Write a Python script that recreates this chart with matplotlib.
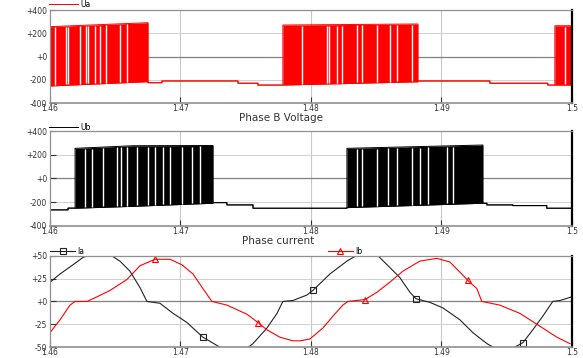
import numpy as np
import matplotlib
matplotlib.use("Agg")
import matplotlib.pyplot as plt
from matplotlib.lines import Line2D

# -----------------------------------------------------
# DATA
# -----------------------------------------------------
xticks = [1.46, 1.47, 1.48, 1.49, 1.50]
xtick_labels = ["1.46", "1.47", "1.48", "1.49", "1.5"]
volt_ticks = [400, 200, 0, -200, -400]
volt_labels = ["+400", "+200", "+0", "-200", "-400"]
curr_ticks = [50, 25, 0, -25, -50]
curr_labels = ["+50", "+25", "+0", "-25", "-50"]

# Ua: upper / lower envelope (equal where the switch is off)
ua_t = [1.46000, 1.46751, 1.46751, 1.46858, 1.46858, 1.47441, 1.47441, 1.47594,
        1.47594, 1.47785, 1.47785, 1.48820, 1.48820, 1.49372, 1.49372, 1.49816,
        1.49816, 1.49870, 1.49870, 1.50000]
ua_hi = [257, 291, -225, -225, -210, -210, -229, -229,
         -245, -245, 271, 280, -210, -210, -229, -229,
         -245, -245, 265, 265]
ua_lo = [-253, -216, -225, -225, -210, -210, -229, -229,
         -245, -245, -245, -217, -210, -210, -229, -229,
         -245, -245, -245, -245]
ua_gaps = [1.46038, 1.46120, 1.46140, 1.46230, 1.46276, 1.46293, 1.46345, 1.46383,
           1.46429, 1.46536, 1.46588,
           1.47929, 1.48120, 1.48140, 1.48202, 1.48235, 1.48355, 1.48389, 1.48503,
           1.48605, 1.48657, 1.48772, 1.49946]

# Ub
ub_t = [1.46000, 1.46138, 1.46138, 1.46192, 1.46192, 1.46636, 1.47249, 1.47249,
        1.47356, 1.47356, 1.47556, 1.47556, 1.48276, 1.48276, 1.49318, 1.49318,
        1.49349, 1.49349, 1.49548, 1.49548, 1.49808, 1.49808, 1.50000]
ub_hi = [-265, -265, -250, -250, 254, 276, 278, -204,
         -204, -223, -223, -251, -251, 254, 282, -209,
         -209, -223, -223, -229, -229, -251, -251]
ub_lo = [-265, -265, -250, -250, -251, -235, -209, -204,
         -204, -223, -223, -251, -251, -246, -209, -209,
         -209, -223, -223, -229, -229, -251, -251]
ub_gaps = [1.46268, 1.46320, 1.46408, 1.46511, 1.46542, 1.46588, 1.46664, 1.46753,
           1.46805, 1.46868, 1.46920, 1.47009, 1.47086, 1.47149,
           1.48355, 1.48389, 1.48503, 1.48592, 1.48657, 1.48772, 1.48835, 1.48899,
           1.49040, 1.49090]

# Ia
ia_t = [1.46000, 1.46077, 1.46176, 1.46253, 1.46307, 1.46460, 1.46536, 1.46613,
        1.46690, 1.46743, 1.46843, 1.46943, 1.47050, 1.47172, 1.47303, 1.47418,
        1.47510, 1.47556, 1.47663, 1.47740, 1.47785, 1.47862, 1.47969, 1.48015,
        1.48146, 1.48276, 1.48360, 1.48506, 1.48605, 1.48682, 1.48759, 1.48805,
        1.48912, 1.49011, 1.49142, 1.49241, 1.49349, 1.49410, 1.49487, 1.49548,
        1.49625, 1.49701, 1.49778, 1.49854, 1.49908, 1.50000]
ia_v = [21, 30, 40, 48, 51, 51, 44, 33,
        15, 0, -2, -13, -23, -39, -50, -55,
        -51, -46, -29, -13, 0, 1, 7, 12,
        30, 44, 51, 51, 37, 26, 10, 3,
        -1, -7, -20, -34, -46, -51, -55, -51,
        -45, -31, -16, 0, 1, 5]
ia_marks = [13, 23, 31, 40]

# Ib
ib_t = [1.46000, 1.46077, 1.46153, 1.46192, 1.46284, 1.46360, 1.46460, 1.46590,
        1.46690, 1.46805, 1.46920, 1.47011, 1.47096, 1.47172, 1.47241, 1.47356,
        1.47510, 1.47594, 1.47663, 1.47762, 1.47862, 1.47916, 1.47992, 1.48092,
        1.48169, 1.48245, 1.48284, 1.48414, 1.48506, 1.48605, 1.48705, 1.48835,
        1.48966, 1.49065, 1.49142, 1.49203, 1.49272, 1.49310, 1.49448, 1.49602,
        1.49755, 1.49885, 1.49985]
ib_v = [-34, -20, -4, 0, 0, 5, 12, 24,
        39, 46, 46, 40, 30, 14, 0, -4,
        -14, -23, -31, -39, -43, -43, -41, -29,
        -16, -4, 0, 2, 10, 21, 33, 44,
        47, 43, 32, 23, 14, 0, -4, -13,
        -27, -39, -46]
ib_marks = [9, 17, 27, 35]

# -----------------------------------------------------
# FIGURE
# -----------------------------------------------------
plt.rcParams["font.family"] = "DejaVu Sans"
fig = plt.figure(figsize=(5.83, 3.58), dpi=100)
fig.patch.set_facecolor("white")

W = 0.895
L = 0.0858
ax1 = fig.add_axes([L, 0.712, W, 0.260])
ax2 = fig.add_axes([L, 0.369, W, 0.265])
ax3 = fig.add_axes([L, 0.030, W, 0.256])

LEG = dict(frameon=False, fontsize=5.5, handletextpad=0.3, borderpad=0,
           borderaxespad=0, loc="lower left")


def style_axes(ax, yt, ylabels, lim):
    ax.set_xlim(1.46, 1.50)
    ax.set_ylim(-lim, lim)
    ax.set_xticks(xticks)
    ax.set_xticklabels(xtick_labels)
    ax.set_yticks(yt)
    ax.set_yticklabels(ylabels)
    ax.tick_params(axis="both", labelsize=5.5, colors="#333333", direction="in",
                   length=4, width=0.8, pad=2)
    ax.tick_params(axis="x", pad=0.5)
    for x in xticks[1:-1]:
        ax.axvline(x, color="#c8c8c8", lw=0.8, zorder=0)
    for y in yt[1:-1]:
        c = "#808080" if y == 0 else "#d0d0d0"
        ax.axhline(y, color=c, lw=0.9 if y == 0 else 0.7, zorder=0)
    for s in ["left", "top", "bottom"]:
        ax.spines[s].set_color("#909090")
        ax.spines[s].set_linewidth(0.9)
    ax.spines["bottom"].set_linewidth(1.2)
    ax.spines["right"].set_color("black")
    ax.spines["right"].set_linewidth(1.6)


def draw_pwm(ax, t, hi, lo, gaps, color, label):
    ax.fill_between(t, lo, hi, color=color, lw=0, zorder=2)
    ax.plot(t, hi, color=color, lw=0.7, zorder=2, label=label)
    ax.plot(t, lo, color=color, lw=0.7, zorder=2)
    g_hi = np.interp(gaps, t, hi)
    g_lo = np.interp(gaps, t, lo)
    ax.vlines(gaps, g_lo + 8, g_hi - 8, color="white", lw=1.0, zorder=3)


style_axes(ax1, volt_ticks, volt_labels, 400)
draw_pwm(ax1, ua_t, ua_hi, ua_lo, ua_gaps, "#ff0000", "Ua")
ax1.legend(bbox_to_anchor=(-0.002, 1.01), handlelength=3.8, **LEG)

style_axes(ax2, volt_ticks, volt_labels, 400)
draw_pwm(ax2, ub_t, ub_hi, ub_lo, ub_gaps, "black", "Ub")
ax2.legend(bbox_to_anchor=(-0.002, 0.99), handlelength=3.8, **LEG)

style_axes(ax3, curr_ticks, curr_labels, 50)
ax3.plot(ia_t, ia_v, color="#222222", lw=0.8, marker="s", ms=4.5,
         mfc="none", mec="#222222", mew=0.8, markevery=ia_marks)
ax3.plot(ib_t, ib_v, color="#ff0000", lw=0.8, marker="^", ms=4.5,
         mfc="none", mec="#ff0000", mew=0.8, markevery=ib_marks)
ha = Line2D([], [], color="#222222", lw=0.8, marker="s", ms=4.5, mfc="none",
            mec="#222222", mew=0.8)
hb = Line2D([], [], color="#ff0000", lw=0.8, marker="^", ms=4.5, mfc="none",
            mec="#ff0000", mew=0.8)
leg_a = ax3.legend([ha], ["Ia"], bbox_to_anchor=(0.0, 1.0), handlelength=3.3,
                   numpoints=1, **LEG)
ax3.add_artist(leg_a)
ax3.legend([hb], ["Ib"], bbox_to_anchor=(0.532, 1.0), handlelength=3.3,
           numpoints=1, **LEG)

fig.text(0.482, 0.670, "Phase B Voltage", ha="center", va="center",
         fontsize=7.5, color="#333333")
fig.text(0.477, 0.327, "Phase current", ha="center", va="center",
         fontsize=7.5, color="#333333")

fig.savefig("out.png", dpi=100, facecolor="white")
